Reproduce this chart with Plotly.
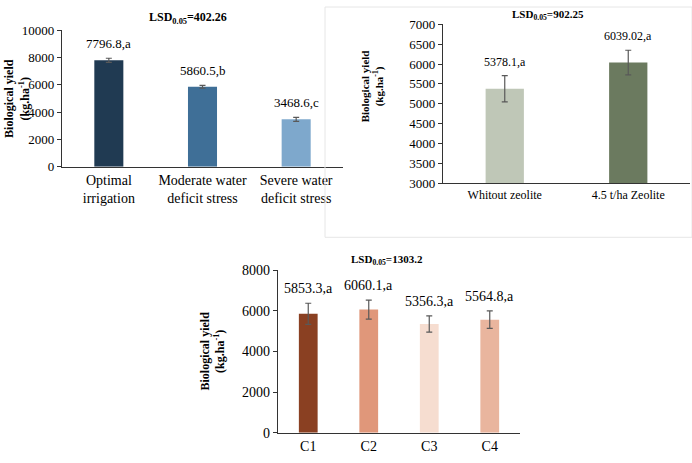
import plotly.graph_objects as go

# Data
irr_cats = ["Optimal<br>irrigation", "Moderate water<br>deficit stress", "Severe water<br>deficit stress"]
irr_vals = [7796.8, 5860.5, 3468.6]
irr_err = [150, 100, 150]
irr_lbl = ["7796.8,a", "5860.5,b", "3468.6,c"]
irr_colors = ["#203a52", "#3f6f97", "#7ea8cc"]

zeo_cats = ["Whitout zeolite", "4.5 t/ha Zeolite"]
zeo_vals = [5378.1, 6039.02]
zeo_err = [330, 310]
zeo_lbl = ["5378.1,a", "6039.02,a"]
zeo_colors = ["#bfc7b7", "#6b7a5f"]

c_cats = ["C1", "C2", "C3", "C4"]
c_vals = [5853.3, 6060.1, 5356.3, 5564.8]
c_err = [520, 470, 400, 430]
c_lbl = ["5853.3,a", "6060.1,a", "5356.3,a", "5564.8,a"]
c_colors = ["#8a4022", "#e0977a", "#f6ddd0", "#e9b59e"]

FONT = "Liberation Serif, Times New Roman, serif"
fig = go.Figure()

def add_bar(cats, vals, err, colors, xa, ya):
    fig.add_trace(go.Bar(
        x=cats, y=vals, marker=dict(color=colors, line=dict(width=0)),
        error_y=dict(type="data", array=err, visible=True, color="#595959", thickness=1.2, width=3),
        xaxis=xa, yaxis=ya, showlegend=False, width=0.31))

add_bar(irr_cats, irr_vals, irr_err, irr_colors, "x", "y")
add_bar(zeo_cats, zeo_vals, zeo_err, zeo_colors, "x2", "y2")
add_bar(c_cats, c_vals, c_err, c_colors, "x3", "y3")

annotations = []
def labels(cats, vals, err, lbls, xa, ya, size):
    for c, v, e, t in zip(cats, vals, err, lbls):
        annotations.append(dict(x=c, y=v + e, xref=xa, yref=ya, text=t, showarrow=False,
                                yanchor="bottom", yshift=5, font=dict(family=FONT, size=size, color="black")))

labels(irr_cats, irr_vals, irr_err, irr_lbl, "x", "y", 13)
labels(zeo_cats, zeo_vals, zeo_err, zeo_lbl, "x2", "y2", 12)
labels(c_cats, c_vals, c_err, c_lbl, "x3", "y3", 14)

def ann(x, y, text, size, angle=0):
    annotations.append(dict(x=x / 692, y=1 - y / 463, xref="paper", yref="paper", text=text,
                            showarrow=False, textangle=angle, xanchor="center", yanchor="middle",
                            font=dict(family=FONT, size=size, color="black")))

ann(188, 11, "<b>LSD<sub>0.05</sub>=402.26</b>", 12)
ann(548, 8, "<b>LSD<sub>0.05</sub>=902.25</b>", 11)
ann(387, 261, "<b>LSD<sub>0.05</sub>=1303.2</b>", 11)

ytitle = "<b>Biological yield<br>(kg.ha<sup>-1</sup>)</b>"
ann(17, 95, ytitle, 12, -90)
ann(372, 82, ytitle, 11, -90)
ann(213, 356, ytitle, 12, -90)

fig.update_layout(annotations=annotations)

def xaxis(dom, anchor, size):
    return dict(domain=dom, anchor=anchor, showline=True, linecolor="#333333", linewidth=1.2,
                ticks="", showgrid=False, tickfont=dict(family=FONT, size=size, color="black"))

def yaxis(dom, anchor, rng, dtick, size):
    return dict(domain=dom, anchor=anchor, range=rng, dtick=dtick, tickformat="d", showline=True,
                linecolor="#333333", linewidth=1.2, ticks="outside", ticklen=4, tickcolor="#333333",
                showgrid=False, zeroline=False, tickfont=dict(family=FONT, size=size, color="black"))

fig.update_layout(
    width=692, height=463, margin=dict(l=0, r=0, t=0, b=0),
    font=dict(family=FONT, color="black"),
    paper_bgcolor="white", plot_bgcolor="white", bargap=0.69,
    xaxis=xaxis([62 / 692, 343 / 692], "y", 14),
    yaxis=yaxis([1 - 165 / 463, 1 - 24 / 463], "x", [0, 10000], 2000, 13),
    xaxis2=xaxis([443 / 692, 690 / 692], "y2", 12),
    yaxis2=yaxis([1 - 182 / 463, 1 - 18 / 463], "x2", [3000, 7000], 500, 13),
    xaxis3=xaxis([278 / 692, 520 / 692], "y3", 14),
    yaxis3=yaxis([1 - 440 / 463, 1 - 272 / 463], "x3", [0, 8000], 2000, 14),
)

fig.add_shape(type="rect", xref="paper", yref="paper", x0=325 / 692, x1=1.0, y0=1 - 238 / 463, y1=1.0,
              line=dict(color="#e6e6e6", width=1))

fig.write_html("out.html")
